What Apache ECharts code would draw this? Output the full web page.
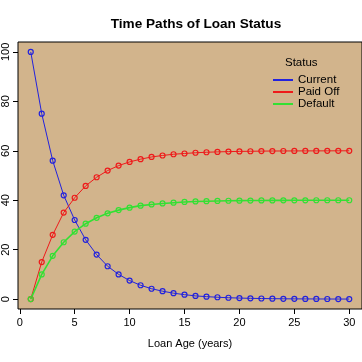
<!DOCTYPE html>
<html><head><meta charset="utf-8">
<script src="https://cdn.jsdelivr.net/npm/echarts@6/dist/echarts.min.js"></script>
<style>html,body{margin:0;padding:0;background:#fff}#c{width:362px;height:362px}</style>
</head><body><div id="c"></div>
<script>
var ages = [1,2,3,4,5,6,7,8,9,10,11,12,13,14,15,16,17,18,19,20,21,22,23,24,25,26,27,28,29,30];
var current = [100,75,56,42,32,24,18,13.3,10,7.5,5.6,4.2,3.2,2.4,1.8,1.3,1.0,0.75,0.56,0.42,0.32,0.24,0.18,0.13,0.1,0.08,0.06,0.04,0.03,0.02];
var paidOff = [0,15,26,35,41,45.8,49.3,52,54,55.5,56.6,57.5,58.1,58.6,58.9,59.2,59.4,59.55,59.66,59.75,59.8,59.86,59.9,59.92,59.94,59.95,59.96,59.97,59.98,59.99];
var defaultS = [0,10,17.5,23,27.3,30.5,32.9,34.7,36,37,37.8,38.3,38.7,39,39.3,39.5,39.6,39.7,39.78,39.83,39.87,39.9,39.93,39.95,39.96,39.97,39.98,39.98,39.99,39.99];
var xTicks = [0,5,10,15,20,25,30];
var yTicks = [0,20,40,60,80,100];
var names = ['Current','Paid Off','Default'];
var colors = ['#2222dd','#ee1a1a','#33e033'];
var widths = [1, 1, 1.6];

function pairs(v){ return ages.map(function(a,i){return [a,v[i]];}); }
var allData = [current, paidOff, defaultS];
var font = 'Liberation Sans, Arial, sans-serif';
var chart = echarts.init(document.getElementById('c'));
chart.setOption({
  animation:false,
  backgroundColor:'#ffffff',
  title:{text:'Time Paths of Loan Status', left:191, top:12, textAlign:'center',
    textStyle:{fontFamily:font, fontSize:13.6, fontWeight:'bold', color:'#000'}},
  grid:{left:16, top:42, width:349, height:267, show:true, backgroundColor:'#d2b48c', borderColor:'#000', borderWidth:1},
  legend:{orient:'vertical', left:268, top:69, icon:'rect', itemWidth:20, itemHeight:2, itemGap:0,
    textStyle:{fontFamily:font, fontSize:11.5, lineHeight:11.5, color:'#000', padding:[0,0,0,0]},
    data:names.map(function(n,i){return {name:n, itemStyle:{color:colors[i], borderWidth:0}};})},
  graphic:[{type:'text', left:285, top:57, style:{text:'Status', font:'11.5px '+font, fill:'#000'}}],
  xAxis:{type:'value', min:-0.16, max:31.16, name:'Loan Age (years)', nameLocation:'middle', nameGap:29,
    nameTextStyle:{fontFamily:font, fontSize:11, color:'#000'},
    splitLine:{show:false},
    axisLine:{show:false, onZero:false},
    axisTick:{show:true, length:5, lineStyle:{color:'#000'}, customValues:xTicks},
    axisLabel:{customValues:xTicks, fontFamily:font, fontSize:11, color:'#000', margin:8}},
  yAxis:{type:'value', min:-4, max:104,
    splitLine:{show:false},
    axisLine:{show:false, onZero:false},
    axisTick:{show:true, length:5, lineStyle:{color:'#000'}, customValues:yTicks},
    axisLabel:{customValues:yTicks, rotate:90, fontFamily:font, fontSize:11, color:'#000', margin:7}},
  series:names.map(function(n,i){
    return {name:n, type:'line', data:pairs(allData[i]), symbol:'circle', symbolSize:5,
      lineStyle:{color:colors[i], width:widths[i]},
      itemStyle:{color:'rgba(0,0,0,0)', borderColor:colors[i], borderWidth:1.2},
      emphasis:{disabled:true}};
  })
});
</script></body></html>
